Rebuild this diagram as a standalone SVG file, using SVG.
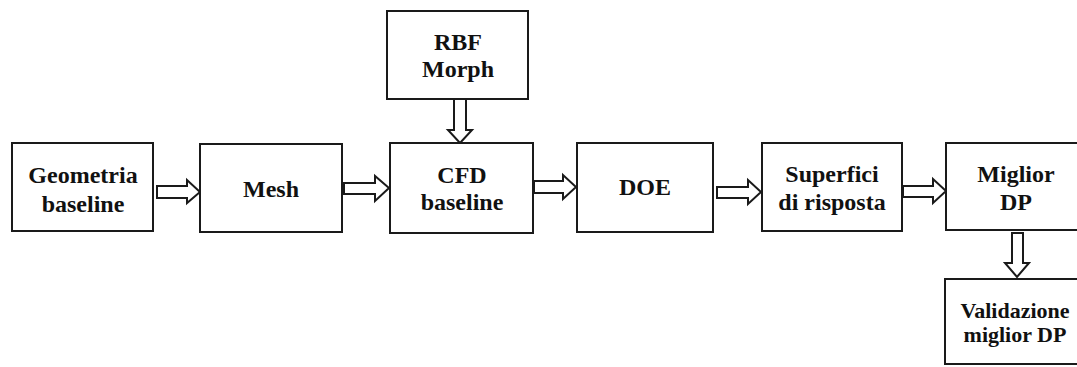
<svg xmlns="http://www.w3.org/2000/svg" width="1077" height="367" viewBox="0 0 1077 367">
  <style>
    .box { fill: #ffffff; stroke: #1a1a1a; stroke-width: 2; }
    .arrow { fill: #ffffff; stroke: #1a1a1a; stroke-width: 2; stroke-linejoin: miter; }
    .lbl { font-family: 'Liberation Serif', 'DejaVu Serif', serif; font-weight: 700; font-size: 24px; fill: #111111; text-anchor: middle; }
    .lbl-sm { font-size: 22px; }
  </style>
  <rect width="1077" height="367" fill="#ffffff"/>

  <!-- block arrows between stages -->
  <g id="connectors">
    <polygon class="arrow" points="157,186 187,186 187,180 200,192 187,203 187,198 157,198"/>
    <polygon class="arrow" points="344,183 375,183 375,176 389,188 375,201 375,194 344,194"/>
    <polygon class="arrow" points="534,181 563,181 563,175 576,187 563,199 563,193 534,193"/>
    <polygon class="arrow" points="717,187 748,187 748,180 761,192 748,204 748,198 717,198"/>
    <polygon class="arrow" points="903,186 933,186 933,179 946,191 933,203 933,197 903,197"/>
    <polygon class="arrow" points="454,99 466,99 466,130 472,130 460,143 448,130 454,130"/>
    <polygon class="arrow" points="1012,233 1023,233 1023,263 1029,263 1017,277 1005,263 1012,263"/>
  </g>

  <g id="geometria-baseline">
    <rect class="box" x="12" y="143" width="141" height="88"/>
    <text class="lbl" x="83" y="183">Geometria</text>
    <text class="lbl" x="83" y="212">baseline</text>
  </g>

  <g id="mesh">
    <rect class="box" x="200" y="144" width="142" height="88"/>
    <text class="lbl" x="271" y="197">Mesh</text>
  </g>

  <g id="rbf-morph">
    <rect class="box" x="387" y="11" width="141" height="88"/>
    <text class="lbl" x="458" y="50">RBF</text>
    <text class="lbl" x="458" y="77">Morph</text>
  </g>

  <g id="cfd-baseline">
    <rect class="box" x="390" y="143" width="143" height="90"/>
    <text class="lbl" x="462" y="183">CFD</text>
    <text class="lbl" x="462" y="210">baseline</text>
  </g>

  <g id="doe">
    <rect class="box" x="577" y="143" width="136" height="89"/>
    <text class="lbl" x="645" y="195">DOE</text>
  </g>

  <g id="superfici-di-risposta">
    <rect class="box" x="762" y="143" width="140" height="88"/>
    <text class="lbl" x="832" y="182">Superfici</text>
    <text class="lbl" x="832" y="210">di risposta</text>
  </g>

  <g id="miglior-dp">
    <rect class="box" x="946" y="143" width="140" height="87"/>
    <text class="lbl" x="1016" y="182">Miglior</text>
    <text class="lbl" x="1016" y="210">DP</text>
  </g>

  <g id="validazione-miglior-dp">
    <rect class="box" x="945" y="279" width="140" height="85"/>
    <text class="lbl lbl-sm" x="1015" y="318">Validazione</text>
    <text class="lbl lbl-sm" x="1015" y="342">miglior DP</text>
  </g>
</svg>
